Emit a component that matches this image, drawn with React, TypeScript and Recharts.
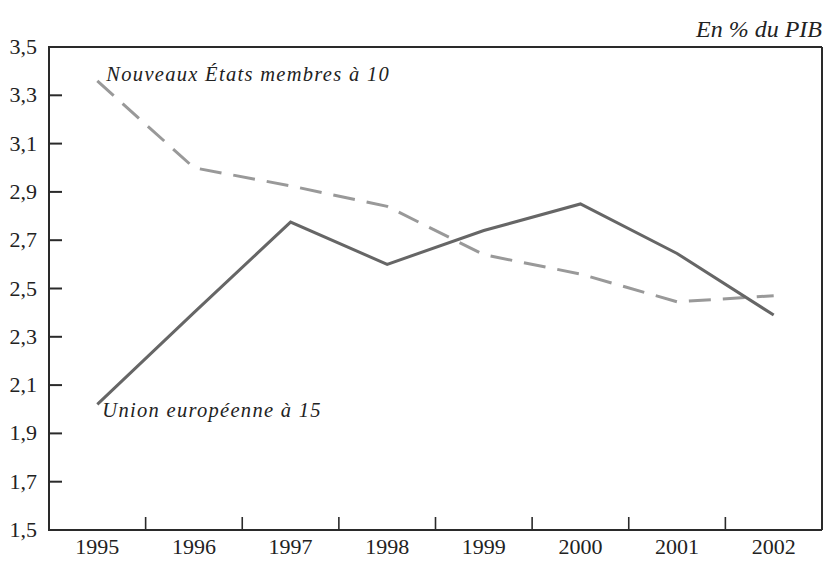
import React from 'react';
import {
  LineChart,
  Line,
  XAxis,
  YAxis,
  ReferenceDot,
} from 'recharts';

const years = [1995, 1996, 1997, 1998, 1999, 2000, 2001, 2002];
const ue15 = [2.02, 2.4, 2.775, 2.6, 2.74, 2.85, 2.645, 2.39];
const nem10 = [3.36, 3.0, 2.925, 2.84, 2.64, 2.56, 2.445, 2.47];
const yTicks = [1.5, 1.7, 1.9, 2.1, 2.3, 2.5, 2.7, 2.9, 3.1, 3.3, 3.5];
const boundaries = [1995.5, 1996.5, 1997.5, 1998.5, 1999.5, 2000.5, 2001.5];

const data = years.map((y, i) => ({ year: y, ue15: ue15[i], nem10: nem10[i] }));

const W = 825;
const H = 562;
const LEFT = 49;
const RIGHT = 3;
const TOP = 47;
const BOTTOM = 32;
const FONT = '"Liberation Serif", "Times New Roman", serif';
const AXIS = '#2a2a2a';
const axisLine = { stroke: AXIS, strokeWidth: 2 };

const YTick = (props: any) => {
  const { y, payload } = props;
  return (
    <g>
      <line x1={LEFT - 1} x2={LEFT + 13} y1={y} y2={y} stroke={AXIS} strokeWidth={2} />
      <text x={LEFT - 12} y={y} dy={7} textAnchor="end" fontFamily={FONT} fontSize={22} fill="#222">
        {payload.value.toFixed(1).replace('.', ',')}
      </text>
    </g>
  );
};

const XTick = (props: any) => {
  const { x, payload } = props;
  return (
    <text x={x} y={H - BOTTOM} dy={24} textAnchor="middle" fontFamily={FONT} fontSize={22} fill="#222">
      {payload.value}
    </text>
  );
};

const BoundaryTick = (props: any) => {
  const { x } = props;
  return <line x1={x} x2={x} y1={H - BOTTOM} y2={H - BOTTOM - 13} stroke={AXIS} strokeWidth={1.6} />;
};

const Note = (props: any) => {
  const { viewBox, text, dx, dy, anchor, size, spacing } = props;
  if (!viewBox) return null;
  return (
    <text
      x={viewBox.x + dx}
      y={viewBox.y + dy}
      textAnchor={anchor}
      fontFamily={FONT}
      fontStyle="italic"
      fontSize={size}
      letterSpacing={spacing}
      fill="#222"
    >
      {text}
    </text>
  );
};

export default function App() {
  return (
    <div style={{ position: 'absolute', left: 0, top: 0, width: W, height: H, background: '#fff' }}>
      <LineChart
        width={W}
        height={H}
        data={data}
        margin={{ top: TOP - 1, right: RIGHT - 1, bottom: 0, left: 0 }}
      >
        <XAxis
          xAxisId="b"
          dataKey="year"
          type="number"
          domain={[1994.5, 2002.5]}
          ticks={boundaries}
          tick={<BoundaryTick />}
          tickLine={false}
          axisLine={false}
          height={1}
        />
        <XAxis
          dataKey="year"
          type="number"
          domain={[1994.5, 2002.5]}
          ticks={years}
          tick={<XTick />}
          tickLine={false}
          axisLine={axisLine}
          height={BOTTOM - 1}
          tickSize={0}
        />
        <XAxis
          xAxisId="t"
          orientation="top"
          dataKey="year"
          type="number"
          domain={[1994.5, 2002.5]}
          ticks={years}
          tick={false}
          tickLine={false}
          axisLine={axisLine}
          height={1}
        />
        <YAxis
          type="number"
          domain={[1.5, 3.5]}
          ticks={yTicks}
          tick={<YTick />}
          tickLine={false}
          axisLine={axisLine}
          width={LEFT}
          interval={0}
        />
        <YAxis
          yAxisId="r"
          orientation="right"
          type="number"
          domain={[1.5, 3.5]}
          ticks={yTicks}
          tick={false}
          tickLine={false}
          axisLine={axisLine}
          width={1}
        />
        <Line
          type="linear"
          dataKey="nem10"
          stroke="#999"
          strokeWidth={3}
          strokeDasharray="22 12"
          dot={false}
          isAnimationActive={false}
        />
        <Line
          type="linear"
          dataKey="ue15"
          stroke="#666"
          strokeWidth={3}
          dot={false}
          isAnimationActive={false}
        />
        <ReferenceDot
          x={1995}
          y={nem10[0]}
          r={1}
          fill="none"
          stroke="none"
          ifOverflow="visible"
          label={<Note text="Nouveaux États membres à 10" dx={10} dy={1} anchor="start" size={20.5} spacing={1.3} />}
        />
        <ReferenceDot
          x={1995}
          y={ue15[0]}
          r={1}
          fill="none"
          stroke="none"
          ifOverflow="visible"
          label={<Note text="Union européenne à 15" dx={6} dy={14} anchor="start" size={20.5} spacing={1.3} />}
        />
        <ReferenceDot
          x={2002.5}
          y={3.5}
          r={1}
          fill="none"
          stroke="none"
          ifOverflow="visible"
          label={<Note text="En % du PIB" dx={1} dy={-9} anchor="end" size={24} spacing={0} />}
        />
      </LineChart>
    </div>
  );
}
